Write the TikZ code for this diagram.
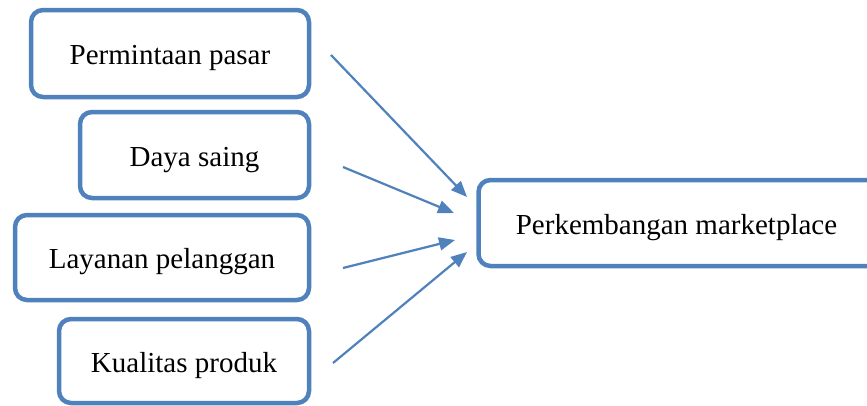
\documentclass[tikz,border=0pt]{standalone}
\usepackage{fontspec}
\setmainfont{Liberation Serif}
\usetikzlibrary{arrows.meta}
\definecolor{boxblue}{HTML}{4F81BD}
\begin{document}
\begin{tikzpicture}[x=1pt,y=-1pt,
  box/.style={draw=boxblue, line width=4.5pt, rounded corners=12pt, fill=white,
    inner sep=0pt, text height=22pt, text depth=0pt,
    font=\fontsize{29}{34}\selectfont},
  arr/.style={draw=boxblue, line width=2.2pt, -{Triangle[length=16pt,width=13pt]}}]
\useasboundingbox (0,0) rectangle (867,405);
\node[box, minimum width=278pt, minimum height=87pt] (pp) at (170,53.5) {Permintaan pasar};
\node[box, minimum width=229pt, minimum height=86pt] (ds) at (194.5,155) {Daya saing};
\node[box, minimum width=294pt, minimum height=85pt] (lp) at (162,257.5) {Layanan pelanggan};
\node[box, minimum width=250pt, minimum height=84pt] (kp) at (184,361) {Kualitas produk};
\node[box, minimum width=414pt, minimum height=86pt] (pm) at (685.5,223) {Perkembangan marketplace\hspace*{18pt}};
\coordinate (s1) at (331,55);
\coordinate (s2) at (343,167);
\coordinate (s3) at (343,268);
\coordinate (s4) at (333,363);
\coordinate (t1) at (467,197);
\coordinate (t2) at (454,213);
\coordinate (t3) at (455,240);
\coordinate (t4) at (467,252);
\draw[arr] (s1) -- (t1);
\draw[arr] (s2) -- (t2);
\draw[arr] (s3) -- (t3);
\draw[arr] (s4) -- (t4);
\end{tikzpicture}
\end{document}
